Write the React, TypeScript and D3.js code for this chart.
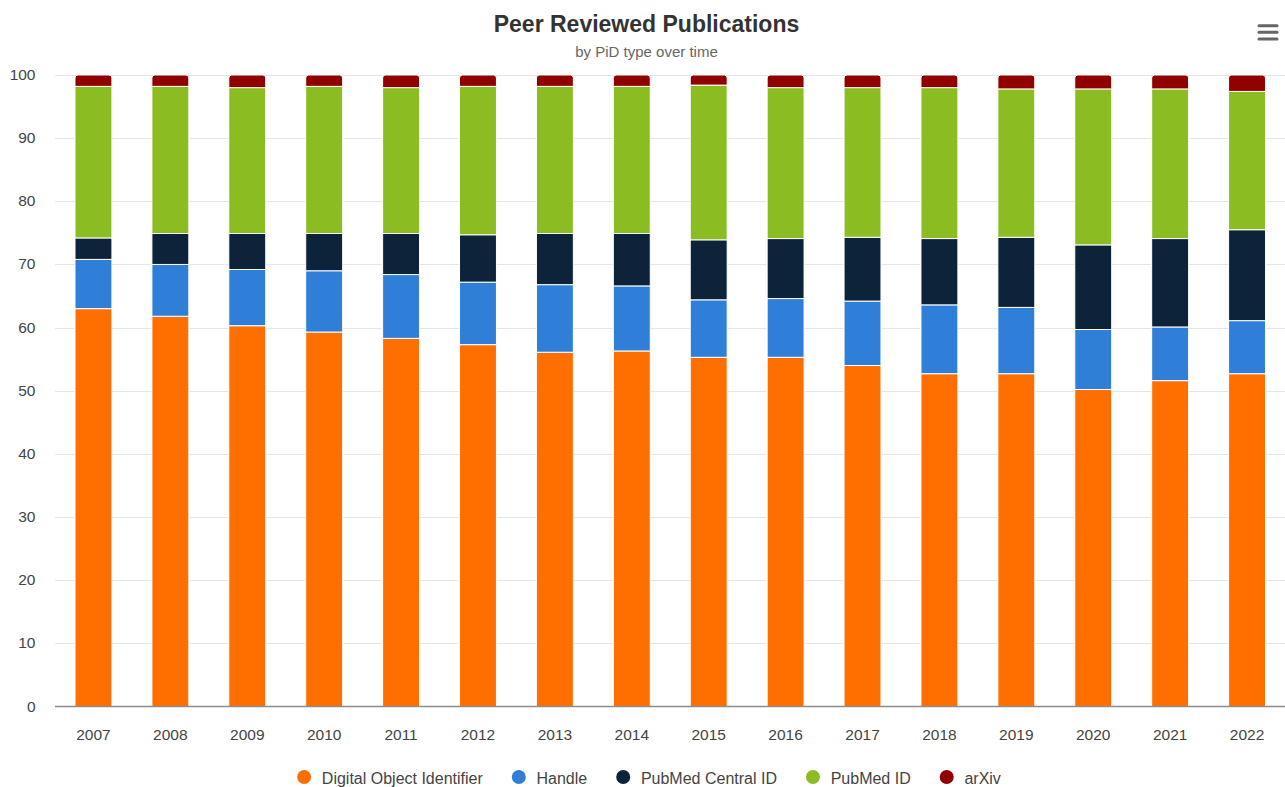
import React from "react";
import * as d3 from "d3";

const years = ["2007","2008","2009","2010","2011","2012","2013","2014","2015","2016","2017","2018","2019","2020","2021","2022"];
const doi = [63.0, 61.8, 60.3, 59.3, 58.3, 57.3, 56.1, 56.3, 55.3, 55.3, 54.0, 52.7, 52.7, 50.2, 51.6, 52.7];
const handle = [7.8, 8.2, 8.9, 9.7, 10.1, 9.9, 10.7, 10.3, 9.1, 9.3, 10.2, 10.9, 10.5, 9.5, 8.5, 8.4];
const pmc = [3.4, 4.9, 5.7, 5.9, 6.5, 7.5, 8.1, 8.3, 9.5, 9.5, 10.1, 10.5, 11.1, 13.4, 14.0, 14.4];
const pubmed = [24.0, 23.3, 23.1, 23.3, 23.1, 23.5, 23.3, 23.3, 24.5, 23.9, 23.7, 23.9, 23.5, 24.7, 23.7, 21.9];
const arxiv = [1.8, 1.8, 2.0, 1.8, 2.0, 1.8, 1.8, 1.8, 1.6, 2.0, 2.0, 2.0, 2.2, 2.2, 2.2, 2.6];
const yTicks = [0, 10, 20, 30, 40, 50, 60, 70, 80, 90, 100];

const seriesNames = ["Digital Object Identifier", "Handle", "PubMed Central ID", "PubMed ID", "arXiv"];
const seriesColors = ["#ff6f00", "#2f7ed8", "#0d233a", "#8bbc21", "#910000"];
const seriesValues = [doi, handle, pmc, pubmed, arxiv];

const W = 1285, H = 787;
const FONT = "'Liberation Sans', Arial, Helvetica, sans-serif";

function measure(text: string, font: string) {
  const c = document.createElement("canvas").getContext("2d");
  if (!c) return text.length * 8;
  c.font = font;
  return c.measureText(text).width;
}

function topRounded(x: number, y: number, w: number, h: number, r: number) {
  const rr = Math.min(r, h, w / 2);
  return `M${x},${y + h}V${y + rr}Q${x},${y} ${x + rr},${y}H${x + w - rr}Q${x + w},${y} ${x + w},${y + rr}V${y + h}Z`;
}

export default function App() {
  const x = d3.scaleBand<string>().domain(years).range([55, 1285.5]).paddingInner(0.52).paddingOuter(0.26);
  const y = d3.scaleLinear().domain([0, 100]).range([706.5, 75]);

  const rows = years.map((yr, i) => {
    const r: any = { year: yr };
    seriesNames.forEach((n, k) => (r[n] = seriesValues[k][i]));
    return r;
  });
  const stacked = d3.stack<any>().keys(seriesNames)(rows);

  const legendFont = `16px ${FONT}`;
  const widths = seriesNames.map((n) => measure(n, legendFont));
  const itemW = widths.map((w) => 17.7 + w);
  const gap = 29;
  const total = 7 + d3.sum(itemW) + (gap + 7) * (seriesNames.length - 1);
  let lx = 649 - total / 2 + 7;
  const legendItems = seriesNames.map((n, k) => {
    const cx = lx;
    lx += itemW[k] + gap + 7;
    return { n, cx, color: seriesColors[k] };
  });

  return (
    <svg width={W} height={H} style={{ position: "absolute", left: 0, top: 0, fontFamily: FONT }}>
      <rect width={W} height={H} fill="#fff" />
      <text x={646.5} y={32} textAnchor="middle" fontSize={23} fontWeight="bold" fill="#333">Peer Reviewed Publications</text>
      <text x={646.5} y={57} textAnchor="middle" fontSize={15} fill="#666">by PiD type over time</text>
      <g stroke="#666" strokeWidth={3} strokeLinecap="round">
        {[25.7, 32.3, 39].map((yy, i) => (
          <line key={i} x1={1259} x2={1277} y1={yy} y2={yy} />
        ))}
      </g>
      {yTicks.map((t) => (
        <g key={t}>
          {t > 0 && <line x1={55} x2={1285} y1={Math.round(y(t)) + 0.5} y2={Math.round(y(t)) + 0.5} stroke="#e6e6e6" />}
          <text x={35.5} y={y(t) + 5} textAnchor="end" fontSize={15.5} fill="#444">{t}</text>
        </g>
      ))}
      {stacked.map((s, k) => (
        <g key={s.key} fill={seriesColors[k]} stroke="#fff" strokeWidth={1}>
          {s.map((d, i) => {
            const x0 = x(years[i])!;
            const y1 = y(d[1]);
            const y0 = y(d[0]);
            if (k === stacked.length - 1) {
              return <path key={i} d={topRounded(x0, y1, x.bandwidth(), y0 - y1, 3)} />;
            }
            return <rect key={i} x={x0} y={y1} width={x.bandwidth()} height={y0 - y1} />;
          })}
        </g>
      ))}
      <line x1={55} x2={1285} y1={706.5} y2={706.5} stroke="#8c8c8c" strokeWidth={1.5} />
      {years.map((yr) => (
        <text key={yr} x={x(yr)! + x.bandwidth() / 2} y={740} textAnchor="middle" fontSize={15.5} fill="#444">{yr}</text>
      ))}
      {legendItems.map((it) => (
        <g key={it.n}>
          <circle cx={it.cx} cy={777} r={7} fill={it.color} />
          <text x={it.cx + 17.7} y={783.5} fontSize={16} fill="#444">{it.n}</text>
        </g>
      ))}
    </svg>
  );
}
